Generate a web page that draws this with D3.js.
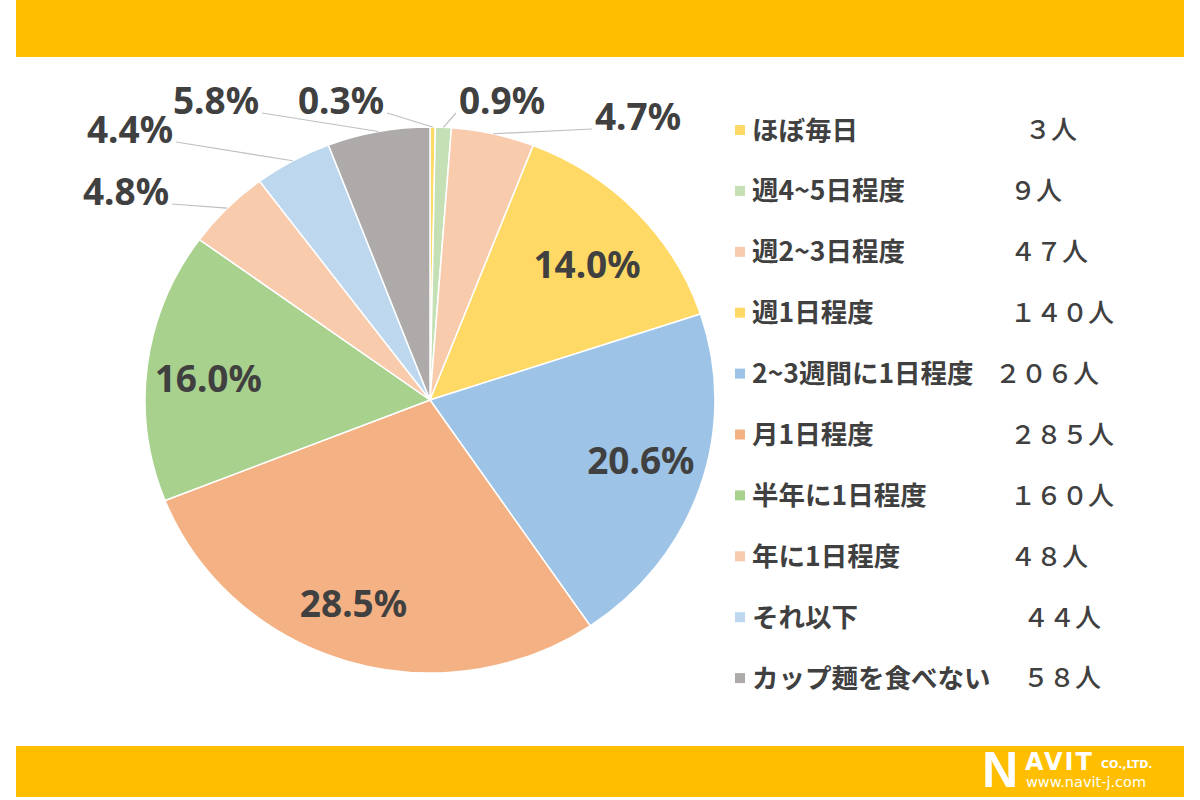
<!DOCTYPE html>
<html>
<head>
<meta charset="utf-8">
<script src="https://cdn.jsdelivr.net/npm/d3@7"></script>
<style>
  html, body { margin: 0; padding: 0; background: #fff; }
  svg { display: block; }
</style>
</head>
<body>
<div id="chart"></div>
<script>
// data (total 1000 people)
const categories = ["ほぼ毎日", "週4~5日程度", "週2~3日程度", "週1日程度", "2~3週間に1日程度",
    "月1日程度", "半年に1日程度", "年に1日程度", "それ以下", "カップ麺を食べない"];
const counts = [3, 9, 47, 140, 206, 285, 160, 48, 44, 58];
const percentLabels = ["0.3%", "0.9%", "4.7%", "14.0%", "20.6%", "28.5%", "16.0%", "4.8%", "4.4%", "5.8%"];
const countLabels = ["３人", "９人", "４７人", "１４０人", "２０６人", "２８５人", "１６０人", "４８人", "４４人", "５８人"];
const colors = ["#ffd966", "#c5e0b4", "#f8cbad", "#ffd966", "#9dc3e6",
    "#f4b183", "#a9d18e", "#f8cbad", "#bdd7ee", "#aeaaaa"];

// layout
const W = 1200, H = 800;
const cx = 430, cy = 400, R = 273, sx = 1.044;   // the original pie is a bit stretched sideways
const barColor = "#ffbf00";
const textColor = "#404040";
// where Excel put the small labels outside the pie (text centre), null = inside
const outerLabelAt = [[341, 101], [502, 101], [638, 117], null, null, null, null, [126, 192], [130, 130], [216, 101]];
// Excel's "best fit" inside labels sit a little off the centroid
const innerNudge = [null, null, null, [-2, 10], [3, -7], [-12, 3], [-4, 5], null, null, null];
const legendX = 735, legendY0 = 130, legendStep = 60.9;
const countX = [1025, 1010, 1010, 1010, 995, 1010, 1010, 1010, 1023, 1023];

const svg = d3.select("#chart").append("svg")
    .attr("width", W)
    .attr("height", H);

// yellow bands top and bottom
svg.append("rect").attr("x", 16).attr("y", 0).attr("width", 1168).attr("height", 57).attr("fill", barColor);
svg.append("rect").attr("x", 16).attr("y", 746).attr("width", 1168).attr("height", 51).attr("fill", barColor);

const pie = d3.pie().sort(null).value(d => d).startAngle(0).endAngle(2 * Math.PI);
const arcs = pie(counts);
const arc = d3.arc().innerRadius(0).outerRadius(R);
const edgeArc = d3.arc().innerRadius(R).outerRadius(R);
const labelArc = d3.arc().innerRadius(R * 0.77).outerRadius(R * 0.77);

const pieG = svg.append("g")
    .attr("transform", `translate(${cx},${cy}) scale(${sx},1)`);

pieG.selectAll("path.slice")
    .data(arcs)
    .join("path")
    .attr("class", "slice")
    .attr("d", arc)
    .attr("fill", (d, i) => colors[i])
    .attr("stroke", "#fff")
    .attr("stroke-width", 1.5)
    .attr("vector-effect", "non-scaling-stroke");

// to page coordinates
const toPage = p => [cx + p[0] * sx, cy + p[1]];

const labelFont = "'Noto Sans', 'Open Sans', sans-serif";
const labelSize = 37;
const labelsG = svg.append("g");

arcs.forEach((d, i) => {
    const pos = outerLabelAt[i];
    if (pos) {
        const t = labelsG.append("text")
            .attr("x", pos[0])
            .attr("y", pos[1])
            .attr("dy", "0.36em")
            .attr("text-anchor", "middle")
            .attr("font-family", labelFont)
            .attr("font-weight", 700)
            .attr("font-size", labelSize)
            .attr("fill", textColor)
            .text(percentLabels[i]);
        const bb = t.node().getBBox();
        const target = toPage(edgeArc.centroid(d));
        const leftSide = target[0] > pos[0];
        const start = [leftSide ? bb.x + bb.width + 3 : bb.x - 3, pos[1] + 12];
        labelsG.append("polyline")
            .attr("points", [start, target].map(p => p.join(",")).join(" "))
            .attr("fill", "none")
            .attr("stroke", "#bfbfbf")
            .attr("stroke-width", 1.2);
    } else {
        const p = toPage(labelArc.centroid(d));
        const n = innerNudge[i] || [0, 0];
        labelsG.append("text")
            .attr("x", p[0] + n[0])
            .attr("y", p[1] + n[1])
            .attr("dy", "0.36em")
            .attr("text-anchor", "middle")
            .attr("font-family", labelFont)
            .attr("font-weight", 700)
            .attr("font-size", labelSize)
            .attr("fill", textColor)
            .text(percentLabels[i]);
    }
});

// legend
const legendFont = "'Noto Sans CJK JP', sans-serif";
const legend = svg.append("g");
categories.forEach((c, i) => {
    const y = legendY0 + i * legendStep;
    legend.append("rect")
        .attr("x", legendX)
        .attr("y", y - 5)
        .attr("width", 10)
        .attr("height", 10)
        .attr("fill", colors[i]);
    legend.append("text")
        .attr("x", legendX + 17)
        .attr("y", y)
        .attr("dy", "0.36em")
        .attr("font-family", legendFont)
        .attr("font-weight", 700)
        .attr("font-size", 26.5)
        .attr("fill", textColor)
        .text(c);
    legend.append("text")
        .attr("x", countX[i])
        .attr("y", y)
        .attr("dy", "0.36em")
        .attr("font-family", legendFont)
        .attr("font-weight", 500)
        .attr("font-size", 26)
        .attr("fill", textColor)
        .text(countLabels[i]);
});

// company logo in the bottom band
const logo = svg.append("g").attr("fill", "#fff").attr("font-family", "'DejaVu Sans', sans-serif");
logo.append("text").attr("x", 982).attr("y", 787).attr("font-size", 50).attr("font-weight", 700)
    .attr("font-family", "'Liberation Sans', Arial, sans-serif").text("N");
logo.append("text").attr("x", 1025).attr("y", 770).attr("font-size", 24).attr("font-weight", 700)
    .attr("letter-spacing", 2).text("AVIT");
logo.append("text").attr("x", 1101).attr("y", 768).attr("font-size", 11).attr("font-weight", 700)
    .text("CO.,LTD.");
logo.append("text").attr("x", 1026).attr("y", 787).attr("font-size", 14.5)
    .text("www.navit-j.com");
</script>
</body>
</html>
